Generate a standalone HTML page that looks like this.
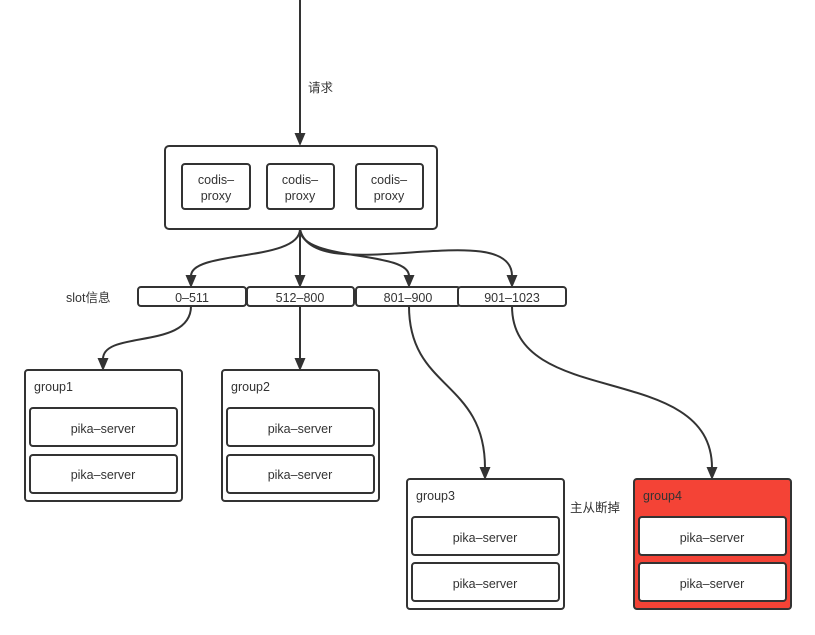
<!DOCTYPE html>
<html><head><meta charset="utf-8"><style>
html,body{margin:0;padding:0;background:#fff;width:815px;height:635px;overflow:hidden}
text{font-family:"Liberation Sans","Noto Sans CJK SC",sans-serif;font-size:12.5px;fill:#333}
</style></head><body>
<svg width="815" height="635" viewBox="0 0 815 635" xmlns="http://www.w3.org/2000/svg">
<g fill="none" stroke="#333" stroke-width="2">
<line x1="300" y1="0" x2="300" y2="134"/>
<path d="M300,229 C300,262 191,250 191,276"/>
<line x1="300" y1="229" x2="300" y2="276"/>
<path d="M300,229 C300,262 409,250 409,276"/>
<path d="M300,229 C312,290 512,215 512,276"/>
<path d="M191,306 C191,350 103,330 103,359"/>
<line x1="300" y1="306" x2="300" y2="359"/>
<path d="M409,306 C409,390 485,380 485,468"/>
<path d="M512,306 C512,410 712,360 712,468"/>
</g>
<g fill="#333">
<path d="M294.5,133 L305.5,133 L300,146 Z"/>
<path d="M185.5,275 L196.5,275 L191,288 Z"/>
<path d="M294.5,275 L305.5,275 L300,288 Z"/>
<path d="M403.5,275 L414.5,275 L409,288 Z"/>
<path d="M506.5,275 L517.5,275 L512,288 Z"/>
<path d="M97.5,358 L108.5,358 L103,371 Z"/>
<path d="M294.5,358 L305.5,358 L300,371 Z"/>
<path d="M479.5,467 L490.5,467 L485,480 Z"/>
<path d="M706.5,467 L717.5,467 L712,480 Z"/>
</g>
<g stroke="#333" stroke-width="2" fill="#fff">
<rect x="165" y="146" width="272" height="83" rx="4"/>
<rect x="182" y="164" width="68" height="45" rx="3"/>
<rect x="267" y="164" width="67" height="45" rx="3"/>
<rect x="356" y="164" width="67" height="45" rx="3"/>
<rect x="138" y="287" width="108" height="19" rx="3"/>
<rect x="247" y="287" width="107" height="19" rx="3"/>
<rect x="356" y="287" width="104" height="19" rx="3"/>
<rect x="458" y="287" width="108" height="19" rx="3"/>
<rect x="25" y="370" width="157" height="131" rx="3"/>
<rect x="30" y="408" width="147" height="38" rx="3"/>
<rect x="30" y="455" width="147" height="38" rx="3"/>
<rect x="222" y="370" width="157" height="131" rx="3"/>
<rect x="227" y="408" width="147" height="38" rx="3"/>
<rect x="227" y="455" width="147" height="38" rx="3"/>
<rect x="407" y="479" width="157" height="130" rx="3"/>
<rect x="412" y="517" width="147" height="38" rx="3"/>
<rect x="412" y="563" width="147" height="38" rx="3"/>
<rect x="634" y="479" width="157" height="130" rx="3" fill="#f44336"/>
<rect x="639" y="517" width="147" height="38" rx="3"/>
<rect x="639" y="563" width="147" height="38" rx="3"/>
</g>
<text x="308" y="92">请求</text>
<g text-anchor="middle">
<text x="216" y="184">codis–</text><text x="216" y="200">proxy</text>
<text x="300" y="184">codis–</text><text x="300" y="200">proxy</text>
<text x="389" y="184">codis–</text><text x="389" y="200">proxy</text>
<text x="192" y="302">0–511</text>
<text x="300" y="302">512–800</text>
<text x="408" y="302">801–900</text>
<text x="512" y="302">901–1023</text>
<text x="103" y="433">pika–server</text>
<text x="103" y="479">pika–server</text>
<text x="300" y="433">pika–server</text>
<text x="300" y="479">pika–server</text>
<text x="485" y="542">pika–server</text>
<text x="485" y="588">pika–server</text>
<text x="712" y="542">pika–server</text>
<text x="712" y="588">pika–server</text>
</g>
<text x="66" y="302">slot信息</text>
<text x="34" y="391">group1</text>
<text x="231" y="391">group2</text>
<text x="416" y="500">group3</text>
<text x="643" y="500">group4</text>
<text x="570" y="512">主从断掉</text>
</svg>
</body></html>
